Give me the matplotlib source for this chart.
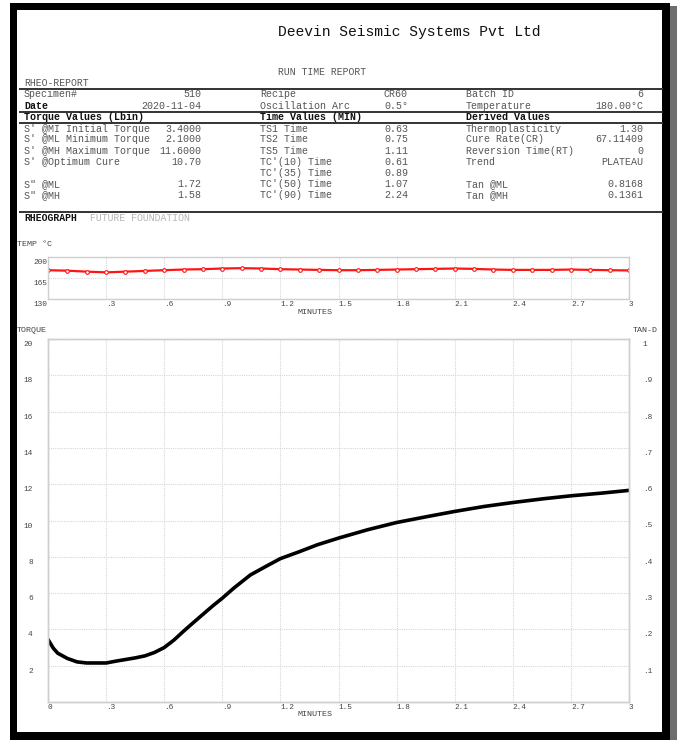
import matplotlib
matplotlib.use("Agg")
import matplotlib.pyplot as plt
import matplotlib.transforms as mtransforms
from matplotlib.patches import Rectangle
from matplotlib.lines import Line2D

plt.rcParams['font.family'] = ['Liberation Mono', 'DejaVu Sans Mono']

# report header table
row_y = [94, 106, 117, 128.5, 139.5, 151, 162, 173, 184, 195]
col1_labels = ["Specimen#", "Date", "Torque Values (Lbin)", "S' @MI Initial Torque",
               "S' @ML Minimum Torque", "S' @MH Maximum Torque", "S' @Optimum Cure", "",
               'S" @ML', 'S" @MH']
col1_values = ["510", "2020-11-04", "", "3.4000", "2.1000", "11.6000", "10.70", "", "1.72", "1.58"]
col2_labels = ["Recipe", "Oscillation Arc", "Time Values (MIN)", "TS1 Time", "TS2 Time",
               "TS5 Time", "TC'(10) Time", "TC'(35) Time", "TC'(50) Time", "TC'(90) Time"]
col2_values = ["CR60", "0.5°", "", "0.63", "0.75", "1.11", "0.61", "0.89", "1.07", "2.24"]
col3_labels = ["Batch ID", "Temperature", "Derived Values", "Thermoplasticity", "Cure Rate(CR)",
               "Reversion Time(RT)", "Trend", "", "Tan @ML", "Tan @MH"]
col3_values = ["6", "180.00°C", "", "1.30", "67.11409", "0", "PLATEAU", "", "0.8168", "0.1361"]

# temperature trace (minutes, deg C)
temp_time = [0, 0.1, 0.2, 0.3, 0.4, 0.5, 0.6, 0.7, 0.8, 0.9, 1.0, 1.1, 1.2, 1.3, 1.4, 1.5,
             1.6, 1.7, 1.8, 1.9, 2.0, 2.1, 2.2, 2.3, 2.4, 2.5, 2.6, 2.7, 2.8, 2.9, 3.0]
temp_vals = [178.0, 177.2, 175.6, 174.4, 175.6, 176.8, 178.0, 179.1, 179.7, 180.8, 181.4,
             180.8, 179.7, 179.1, 178.5, 178.0, 178.0, 178.5, 179.1, 179.7, 180.2, 180.8,
             180.2, 179.1, 178.5, 178.5, 178.5, 179.1, 178.5, 178.0, 177.6]
temp_xticks = [0.3, 0.6, 0.9, 1.2, 1.5, 1.8, 2.1, 2.4, 2.7, 3.0]
temp_xlabels = [".3", ".6", ".9", "1.2", "1.5", "1.8", "2.1", "2.4", "2.7", "3"]
temp_yticks = [130, 165, 200]

# torque trace (minutes, lbin)
torque_time = [0, 0.027, 0.05, 0.1, 0.15, 0.2, 0.25, 0.3, 0.35, 0.4, 0.45, 0.5, 0.55, 0.6,
               0.65, 0.7, 0.75, 0.8, 0.85, 0.9, 0.96, 1.045, 1.13, 1.2, 1.3, 1.39, 1.5, 1.65,
               1.8, 1.96, 2.1, 2.25, 2.4, 2.56, 2.7, 2.86, 3.0]
torque_vals = [3.45, 2.97, 2.69, 2.40, 2.21, 2.15, 2.15, 2.15, 2.25, 2.34, 2.43, 2.54, 2.73,
               3.00, 3.41, 3.90, 4.37, 4.83, 5.29, 5.72, 6.28, 7.00, 7.50, 7.90, 8.29, 8.66,
               9.03, 9.49, 9.89, 10.22, 10.50, 10.77, 10.99, 11.20, 11.36, 11.51, 11.66]
main_xticks = [0, 0.3, 0.6, 0.9, 1.2, 1.5, 1.8, 2.1, 2.4, 2.7, 3.0]
main_xlabels = ["0", ".3", ".6", ".9", "1.2", "1.5", "1.8", "2.1", "2.4", "2.7", "3"]
torque_ticks = [2, 4, 6, 8, 10, 12, 14, 16, 18, 20]
tan_ticks = [0.1, 0.2, 0.3, 0.4, 0.5, 0.6, 0.7, 0.8, 0.9, 1.0]
tan_labels = [".1", ".2", ".3", ".4", ".5", ".6", ".7", ".8", ".9", "1"]

W, H = 677, 740
fig = plt.figure(figsize=(W / 100, H / 100), dpi=100)


def fx(x):
    return x / W


def fy(y):
    return 1 - y / H


def box(x0, y0, x1, y1, color):
    fig.add_artist(Rectangle((fx(x0), fy(y1)), (x1 - x0) / W, (y1 - y0) / H,
                             transform=fig.transFigure, color=color, lw=0))


# page frame
box(10, 3, 670, 10, 'black')
box(10, 3, 17, 740, 'black')
box(662, 3, 670, 740, 'black')
box(670, 6, 677, 740, '#6e6e6e')
box(10, 732, 670, 740, 'black')

txt = '#555555'
fig.text(fx(409), fy(32), "Deevin Seismic Systems Pvt Ltd", fontsize=10.5, ha='center',
         va='center', color='#111111')
fig.text(fx(278), fy(72), "RUN TIME REPORT", fontsize=7, va='center', color=txt)
fig.text(fx(24), fy(83), "RHEO-REPORT", fontsize=7, va='center', color=txt)

for y in [89, 112, 123, 212]:
    fig.add_artist(Line2D([fx(20), fx(662)], [fy(y), fy(y)], color='#333333', lw=1.4,
                          transform=fig.transFigure))

for i, y in enumerate(row_y):
    bold = i == 2
    c = '#111111' if bold else txt
    w = 'bold' if bold else 'normal'
    fig.text(fx(24), fy(y), col1_labels[i], fontsize=7.2, va='center',
             color='#111111' if i in (1, 2) else txt,
             weight='bold' if i in (1, 2) else 'normal')
    fig.text(fx(201), fy(y), col1_values[i], fontsize=7.2, va='center', ha='right', color=txt)
    fig.text(fx(260), fy(y), col2_labels[i], fontsize=7.2, va='center', color=c, weight=w)
    fig.text(fx(384), fy(y), col2_values[i], fontsize=7.2, va='center', color=txt)
    fig.text(fx(466), fy(y), col3_labels[i], fontsize=7.2, va='center', color=c, weight=w)
    fig.text(fx(643), fy(y), col3_values[i], fontsize=7.2, va='center', ha='right', color=txt)

fig.text(fx(24), fy(218), "RHEOGRAPH", fontsize=7, va='center', weight='bold', color='#111111')
fig.text(fx(90), fy(218), "FUTURE FOUNDATION", fontsize=7, va='center', color='#b5b5b5')

grid_kw = dict(color='#d6d6d6', ls=(0, (1, 1)), lw=0.8)
down = mtransforms.ScaledTranslation(0, -5.5 / 100, fig.dpi_scale_trans)


def style(ax, ypad):
    for s in ax.spines.values():
        s.set_color('#cfcfcf')
        s.set_linewidth(1)
    ax.tick_params(length=0, labelsize=5.6, labelcolor='#444444')
    ax.tick_params(axis='y', pad=ypad)
    ax.tick_params(axis='x', pad=1.5)
    for lbl in ax.get_yticklabels():
        lbl.set_va('center')
        lbl.set_transform(lbl.get_transform() + down)
    for lbl in ax.get_xticklabels():
        lbl.set_ha('left')


# temperature chart
ax_t = fig.add_axes([fx(48), fy(299), (629 - 48) / W, (299 - 257) / H])
ax_t.plot(temp_time, temp_vals, color='#ff1414', lw=1.6, marker='o', ms=2.6,
          mfc='white', mec='#ff1414', mew=0.8)
ax_t.set_xlim(0, 3)
ax_t.set_ylim(130, 200)
ax_t.set_xticks(temp_xticks, temp_xlabels)
ax_t.set_yticks(temp_yticks, [str(v) for v in temp_yticks])
ax_t.grid(True, **grid_kw)
style(ax_t, 0.5)
fig.text(fx(17), fy(244), "TEMP °C", fontsize=6, va='center', color='#444444')
fig.text(fx(315), fy(312), "MINUTES", fontsize=6, ha='center', va='center', color='#444444')

# torque / tan delta chart
ax = fig.add_axes([fx(48), fy(702), (629 - 48) / W, (702 - 339) / H])
ax.plot(torque_time, torque_vals, color='black', lw=2.6, solid_capstyle='round')
ax.set_xlim(0, 3)
ax.set_ylim(0, 20)
ax.set_xticks(main_xticks, main_xlabels)
ax.set_yticks(torque_ticks, [str(v) for v in torque_ticks])
ax.grid(True, **grid_kw)
style(ax, 11)

ax2 = ax.twinx()
ax2.set_ylim(0, 1)
ax2.set_yticks(tan_ticks, tan_labels)
style(ax2, 10)

fig.text(fx(17), fy(330), "TORQUE", fontsize=6, va='center', color='#444444')
fig.text(fx(633), fy(330), "TAN-D", fontsize=6, va='center', color='#444444')
fig.text(fx(315), fy(714), "MINUTES", fontsize=6, ha='center', va='center', color='#444444')

fig.savefig("out.png", dpi=100)
